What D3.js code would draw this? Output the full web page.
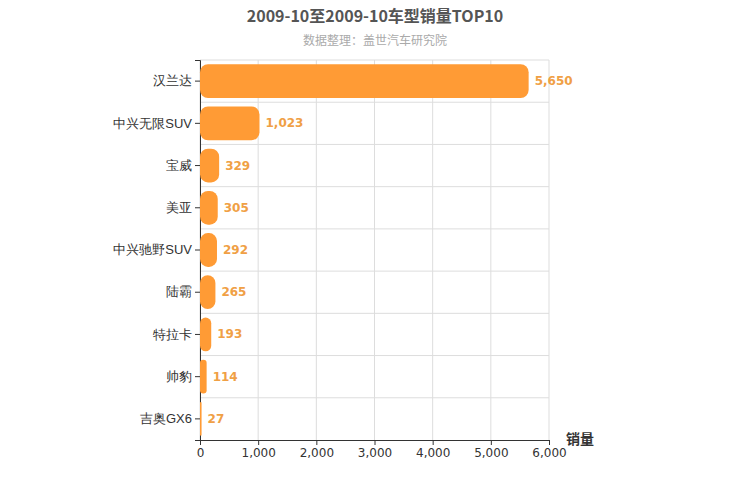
<!DOCTYPE html>
<html><head><meta charset="utf-8">
<script src="https://cdn.jsdelivr.net/npm/d3@7"></script>
<style>body{margin:0;background:#fff;font-family:"Noto Sans CJK SC","DejaVu Sans",sans-serif;}</style>
</head><body><svg id="c" width="750" height="500"></svg>
<script>
const categories=["汉兰达","中兴无限SUV","宝威","美亚","中兴驰野SUV","陆霸","特拉卡","帅豹","吉奥GX6"];
const values=[5650,1023,329,305,292,265,193,114,27];
const xTicks=[0,1000,2000,3000,4000,5000,6000];
const svg=d3.select("#c");
const L=200,R=549,T=60,B=440;
const x=d3.scaleLinear().domain([0,6000]).range([L,R]);
const y=d3.scaleBand().domain(categories).range([T,B]).paddingInner(0.2).paddingOuter(0.1);
const yb=d3.scaleBand().domain(categories).range([T,B]);
svg.append("text").attr("x",375).attr("y",22).attr("text-anchor","middle").attr("font-size",16).attr("font-weight","bold").attr("fill","#555").text("2009-10至2009-10车型销量TOP10");
svg.append("text").attr("x",375).attr("y",45).attr("text-anchor","middle").attr("font-size",12).attr("fill","#aaa").text("数据整理：盖世汽车研究院");
const g=svg.append("g");
xTicks.forEach(t=>g.append("line").attr("x1",x(t)).attr("x2",x(t)).attr("y1",T).attr("y2",B).attr("stroke","#ddd"));
categories.forEach(c=>g.append("line").attr("x1",L).attr("x2",R).attr("y1",yb(c)).attr("y2",yb(c)).attr("stroke","#ddd"));
const ax=svg.append("g").attr("transform",`translate(0,${B})`).call(d3.axisBottom(x).tickValues(xTicks).tickFormat(d3.format(",")).tickSize(5));
ax.selectAll("text").attr("font-size",12).attr("fill","#333").attr("font-family","DejaVu Sans, sans-serif");
ax.selectAll("line,path").attr("stroke","#333");
const ay=svg.append("g").attr("transform",`translate(${L},0)`).call(d3.axisLeft(yb).tickSize(5));
ay.selectAll("text").attr("font-size",13).attr("fill","#333");
ay.selectAll("line,path").attr("stroke","#333");
svg.append("text").attr("x",580).attr("y",444).attr("text-anchor","middle").attr("font-size",14).attr("font-weight","bold").attr("fill","#333").text("销量");
categories.forEach((c,i)=>{
 const w=x(values[i])-L;
 svg.append("rect").attr("x",L).attr("y",y(c)).attr("width",w).attr("height",y.bandwidth()).attr("rx",Math.min(8,w/2)).attr("fill","#ff9b35");
 svg.append("text").attr("x",x(values[i])+6).attr("y",y(c)+y.bandwidth()/2+4).attr("font-size",12).attr("font-weight","bold").attr("fill","#f0a045").attr("font-family","DejaVu Sans, sans-serif").text(d3.format(",")(values[i]));
});
</script></body></html>
